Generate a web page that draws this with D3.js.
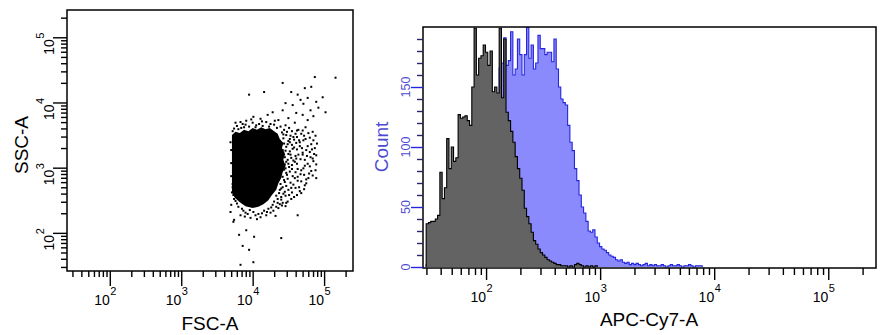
<!DOCTYPE html>
<html><head><meta charset="utf-8">
<script src="https://cdn.jsdelivr.net/npm/d3@7"></script>
<style>
html,body{margin:0;padding:0;background:#fff;}
svg{display:block;font-family:"Liberation Sans",Arial,Helvetica,sans-serif;}
</style></head><body>
<svg id="chart" width="881" height="335"></svg>
<script>
// ---- FSC-A / SSC-A dot plot -------------------------------------------
// Single events, as [log10 FSC-A, log10 SSC-A]
const scatterEvents = [
  // sparse events above the population
  [5.16,4.38],[4.87,4.39],[4.42,4.30],[3.95,4.12],[4.16,4.16],[4.54,4.16],[4.73,4.22],[4.82,4.24],
  [4.98,4.08],[5.02,3.85],[4.63,4.12],[4.67,4.04],[4.77,4.07],[4.89,4.01],[4.46,3.99],[4.56,3.96],
  [4.71,3.98],[4.81,3.88],[4.92,3.92],[4.42,3.88],[4.61,3.84],[4.70,3.81],[4.50,3.76],[4.28,3.85],
  [4.36,3.73],[4.21,3.81],[4.01,3.78],[4.11,3.75],[3.91,3.72],[3.83,3.70],[3.76,3.69],[4.77,3.73],
  [4.85,3.79],[4.59,3.69],[4.46,3.65],[4.25,3.67],[4.05,3.65],[3.88,3.62],[3.80,3.59],[3.72,3.56],
  // high-FSC shoulder of the population
  [4.44,3.58],[4.51,3.61],[4.64,3.58],[4.74,3.62],[4.84,3.55],[4.47,3.50],[4.57,3.47],[4.68,3.52],
  [4.80,3.46],[4.88,3.49],[4.50,3.41],[4.61,3.38],[4.71,3.42],[4.82,3.36],[4.47,3.32],[4.56,3.29],
  [4.66,3.33],[4.75,3.27],[4.87,3.30],[4.50,3.21],[4.60,3.18],[4.70,3.23],[4.81,3.16],[4.89,3.19],
  [4.49,3.12],[4.59,3.09],[4.67,3.13],[4.77,3.06],[4.85,3.10],[4.51,3.01],[4.63,2.98],[4.73,3.03],
  [4.82,2.95],[4.47,2.92],[4.56,2.87],[4.67,2.90],[4.78,2.84],[4.44,2.81],[4.53,2.77],[4.63,2.80],
  [4.73,2.73],[4.42,2.70],[4.50,2.66],[4.60,2.69],[4.68,2.61],[4.37,2.61],[4.46,2.57],[4.54,2.52],
  [4.35,2.52],[4.42,2.46],[4.28,2.43],[4.36,2.38],[4.63,2.27],[4.88,2.96],[4.89,2.84],
  [4.41,3.54],[4.55,3.56],[4.60,3.52],[4.70,3.57],[4.78,3.53],[4.43,3.45],[4.52,3.44],[4.62,3.47],
  [4.74,3.44],[4.85,3.42],[4.44,3.37],[4.55,3.35],[4.66,3.39],[4.77,3.33],[4.90,3.37],[4.42,3.27],
  [4.52,3.25],[4.62,3.28],[4.70,3.20],[4.80,3.24],[4.45,3.16],[4.54,3.15],[4.64,3.20],[4.73,3.12],
  [4.84,3.14],[4.45,3.05],[4.55,3.04],[4.62,3.06],[4.71,2.99],[4.80,3.02],[4.89,3.05],[4.44,2.97],
  [4.52,2.94],[4.60,2.93],[4.72,2.89],[4.84,2.88],[4.42,2.86],[4.49,2.83],[4.59,2.84],[4.68,2.79],
  [4.75,2.82],[4.39,2.75],[4.47,2.72],[4.57,2.74],[4.65,2.70],[4.72,2.67],[4.38,2.66],[4.45,2.63],
  [4.55,2.62],[4.62,2.58],[4.33,2.57],[4.40,2.51],[4.49,2.48],[4.58,2.55],[4.30,2.48],[4.38,2.44],
  [4.46,2.41],
  [4.43,3.51],[4.48,3.55],[4.53,3.49],[4.58,3.43],[4.49,3.36],[4.46,3.26],[4.58,3.31],[4.53,3.20],
  [4.47,3.09],[4.57,3.11],[4.50,3.06],[4.46,2.99],[4.55,2.98],[4.48,2.89],[4.63,2.86],[4.45,2.78],
  [4.54,2.69],[4.43,2.60],[4.51,2.58],[4.41,2.42],[4.65,3.42],[4.69,3.30],[4.61,3.14],[4.68,2.96],
  [4.76,3.18],[4.79,2.91],[4.66,2.64],[4.72,3.49],[4.83,3.28],[4.86,3.21],[4.75,2.76],[4.44,3.20],
  [4.41,3.05],[4.52,3.39],[4.62,3.57],[4.40,2.68],[4.47,2.46],[4.35,2.46],[4.33,2.40],
  // ragged rim of the dense core
  [3.74,3.60],[3.78,3.64],[3.84,3.61],[3.90,3.66],[3.95,3.63],[4.00,3.69],[4.04,3.62],[4.09,3.67],
  [4.14,3.64],[4.19,3.70],[4.23,3.63],[4.30,3.66],[4.34,3.61],[4.39,3.63],[3.86,3.67],[3.98,3.74],
  [4.13,3.71],[4.31,3.72],[3.71,2.62],[3.74,2.52],[3.78,2.45],[3.72,2.75],[3.76,2.66],[3.85,2.37],
  [3.90,2.31],[3.96,2.35],[4.04,2.27],[4.13,2.30],[4.19,2.27],[3.89,2.25],[4.06,2.21],[4.20,2.32],
  [4.26,2.39],
  [3.73,2.58],[3.76,2.49],[3.70,2.43],[3.80,2.40],[3.87,2.34],[3.93,2.29],[4.01,2.32],[4.08,2.29],
  [4.16,2.34],[4.22,2.37],[4.29,2.34],[4.11,2.24],[3.97,2.23],[3.83,2.27],[3.74,2.20],[3.69,2.32],
  [3.72,2.70],[3.70,2.87],[3.70,3.07],[3.70,3.27],[3.69,3.39],[4.25,2.31],[4.40,2.55],[4.32,2.26],
  // sparse events below
  [3.81,1.97],[3.86,1.80],[3.95,1.74],[4.02,1.94],[4.40,1.92],[3.83,1.51],[4.01,1.55],[3.91,2.04],[3.73,2.17]
];
// Outline of the saturated core, as [log10 FSC-A, log10 SSC-A]
const coreOutline = [
  [3.71,3.50],[3.76,3.55],[3.82,3.53],[3.88,3.58],[3.94,3.56],[4.00,3.61],[4.06,3.58],[4.12,3.62],
  [4.18,3.59],[4.24,3.61],[4.30,3.56],[4.35,3.52],[4.38,3.44],[4.43,3.38],[4.41,3.30],[4.45,3.22],
  [4.43,3.12],[4.46,3.02],[4.42,2.93],[4.40,2.84],[4.36,2.76],[4.33,2.66],[4.27,2.58],[4.22,2.50],
  [4.15,2.44],[4.08,2.40],[4.00,2.38],[3.90,2.41],[3.82,2.47],[3.75,2.54],[3.71,2.62]
];

// ---- APC-Cy7-A histogram ----------------------------------------------
const binStartLog = 1.475;   // log10 of the first bin edge
const binWidthLog = 0.02;    // bin width in decades
const countsUnstained = [
  36,37,38,38,40,43,79,57,66,107,82,100,88,91,127,124,125,126,122,118,
  150,199,160,174,176,185,179,168,180,146,150,145,199,141,190,129,122,113,104,92,
  82,74,64,49,42,36,29,22,19,15,12,10,8,6,5,4,3,2,2,1,
  1,1,0,1,0,2,3,2,1,0,1,0,1,0,1
];
const countsStained = [
  2,2,3,3,4,5,6,7,9,11,13,16,19,23,27,32,38,44,51,58,
  66,75,84,93,102,111,120,128,136,140,144,140,166,170,191,168,172,196,160,165,
  190,177,160,177,200,174,185,165,170,193,182,182,177,179,179,171,190,165,150,140,
  137,135,118,104,97,82,72,60,50,45,38,30,29,31,25,20,17,15,14,12,
  10,9,8,6,5,6,4,3,4,2,3,2,3,2,1,2,3,1,2,1,
  2,1,1,2,1,0,1,2,1,1,2,1,0,1,1,2,1,0,1,1,1
];

// ---- axis labelling -----------------------------------------------------
const decadeExponents = [2, 3, 4, 5];
const countTicks = [0, 50, 100, 150];
const countMinorStep = 10;

const svg = d3.select("#chart");
const blueText = "#4b4bd2";
const blueLine = "#2626e0";
const countTickColor = "#26266e";

// ======================= left panel: dot plot =======================
const L = {x0: 67, x1: 353, y0: 10, y1: 271};
const xL = d3.scaleLog().domain([26, 262144]).range([68, 354]);
const yL = d3.scaleLog().domain([26, 262144]).range([271, 10]);

const left = svg.append("g");
svg.append("clipPath").attr("id", "clipL").append("rect")
  .attr("x", L.x0).attr("y", L.y0).attr("width", L.x1 - L.x0).attr("height", L.y1 - L.y0);

const dots = left.append("g").attr("clip-path", "url(#clipL)");
dots.append("path")
  .datum(coreOutline)
  .attr("d", d3.line().x(d => xL(10 ** d[0])).y(d => yL(10 ** d[1])).curve(d3.curveLinearClosed))
  .attr("fill", "#000");
dots.selectAll("rect").data(scatterEvents).join("rect")
  .attr("x", d => xL(10 ** d[0]) - 1).attr("y", d => yL(10 ** d[1]) - 1)
  .attr("width", 2).attr("height", 2).attr("fill", "#000");

left.append("rect").attr("x", L.x0).attr("y", L.y0)
  .attr("width", L.x1 - L.x0).attr("height", L.y1 - L.y0)
  .attr("fill", "none").attr("stroke", "#000").attr("stroke-width", 1.5);

function isDecade(v) { return Math.abs(Math.log10(v) - Math.round(Math.log10(v))) < 1e-9; }

function logAxis(scale, orient, pos, minorLen, majorLen, color) {
  const all = scale.ticks();
  const minors = all.filter(v => !isDecade(v));
  const majors = all.filter(v => isDecade(v));
  const mk = orient === "bottom" ? d3.axisBottom : d3.axisLeft;
  const tr = orient === "bottom" ? `translate(0,${pos})` : `translate(${pos},0)`;
  [[minors, minorLen], [majors, majorLen]].forEach(([vals, len]) => {
    const g = svg.append("g").attr("transform", tr)
      .call(mk(scale).tickValues(vals).tickSize(len).tickFormat(""));
    g.select(".domain").remove();
    g.selectAll("line").attr("stroke", color).attr("stroke-width", 1.4);
  });
}

logAxis(xL, "bottom", L.y1, 6, 15, "#000");
logAxis(yL, "left", L.x0, 6, 14, "#000");

// decade labels on the FSC axis
const xlab = svg.append("g").attr("font-size", 14).attr("fill", "#000");
decadeExponents.forEach(e => {
  const x = xL(10 ** e);
  xlab.append("text").attr("x", x).attr("y", 305).attr("text-anchor", "end").text("10");
  xlab.append("text").attr("x", x + 0.5).attr("y", 295).attr("font-size", 11).text(e);
});
// decade labels on the SSC axis (rotated)
decadeExponents.forEach(e => {
  const y = yL(10 ** e);
  const g = svg.append("g").attr("transform", `translate(54,${y + 2}) rotate(-90)`).attr("fill", "#000");
  g.append("text").attr("x", 0).attr("y", 0).attr("text-anchor", "end").attr("font-size", 14).text("10");
  g.append("text").attr("x", 0.5).attr("y", -10).attr("font-size", 11).text(e);
});

svg.append("text").attr("x", 210).attr("y", 330).attr("text-anchor", "middle")
  .attr("font-size", 19).text("FSC-A");
svg.append("text").attr("transform", "translate(28,145) rotate(-90)").attr("text-anchor", "middle")
  .attr("font-size", 19).text("SSC-A");

// ======================= right panel: histogram =======================
const R = {x0: 423, x1: 876, y0: 27, y1: 268};
const xR = d3.scaleLog().domain([28, 262144]).range([R.x0, R.x1]);
const yR = d3.scaleLinear().domain([0, 200]).range([267, R.y0]);

svg.append("clipPath").attr("id", "clipR").append("rect")
  .attr("x", R.x0).attr("y", R.y0).attr("width", R.x1 - R.x0).attr("height", R.y1 - R.y0);

function histPoints(counts) {
  const edge = i => 10 ** (binStartLog + i * binWidthLog);
  const pts = [[edge(0), 0]];
  counts.forEach((c, i) => pts.push([edge(i), c]));
  pts.push([edge(counts.length), counts[counts.length - 1]]);
  pts.push([edge(counts.length), 0]);
  return pts;
}
const stepLine = d3.line().x(d => xR(d[0])).y(d => yR(d[1])).curve(d3.curveStepAfter);
const stepArea = d3.area().x(d => xR(d[0])).y0(yR(0)).y1(d => yR(d[1])).curve(d3.curveStepAfter);

const hist = svg.append("g").attr("clip-path", "url(#clipR)");
const series = [
  {counts: countsStained, fill: "#8a8afc", stroke: blueLine},
  {counts: countsUnstained, fill: "#636363", stroke: "#000"}
];
series.forEach(s => {
  const pts = histPoints(s.counts);
  hist.append("path").datum(pts).attr("d", stepArea).attr("fill", s.fill);
  hist.append("path").datum(pts).attr("d", stepLine).attr("fill", "none")
    .attr("stroke", s.stroke).attr("stroke-width", 1.1);
});

svg.append("rect").attr("x", R.x0).attr("y", R.y0)
  .attr("width", R.x1 - R.x0).attr("height", R.y1 - R.y0)
  .attr("fill", "none").attr("stroke", "#000").attr("stroke-width", 1.5);

logAxis(xR, "bottom", R.y1, 7, 12, "#000");

// count axis
const countAll = d3.range(0, 200, countMinorStep);
[[countAll.filter(v => !countTicks.includes(v)), 6], [countTicks, 12]].forEach(([vals, len]) => {
  const g = svg.append("g").attr("transform", `translate(${R.x0},0)`)
    .call(d3.axisLeft(yR).tickValues(vals).tickSize(len).tickFormat(""));
  g.select(".domain").remove();
  g.selectAll("line").attr("stroke", len > 6 ? blueLine : countTickColor).attr("stroke-width", 1.4);
});
countTicks.forEach(v => {
  svg.append("text").attr("transform", `translate(410,${yR(v)}) rotate(-90)`)
    .attr("text-anchor", "middle").attr("font-size", 12.5).attr("fill", blueText).text(v);
});

const xlabR = svg.append("g").attr("font-size", 14).attr("fill", "#000");
decadeExponents.forEach(e => {
  const x = xR(10 ** e);
  xlabR.append("text").attr("x", x).attr("y", 301.5).attr("text-anchor", "end").text("10");
  xlabR.append("text").attr("x", x + 0.5).attr("y", 291.5).attr("font-size", 11).text(e);
});

svg.append("text").attr("x", 649).attr("y", 326).attr("text-anchor", "middle")
  .attr("font-size", 19).text("APC-Cy7-A");
svg.append("text").attr("transform", "translate(388,147) rotate(-90)").attr("text-anchor", "middle")
  .attr("font-size", 19).attr("fill", blueText).text("Count");
</script>
</body></html>
